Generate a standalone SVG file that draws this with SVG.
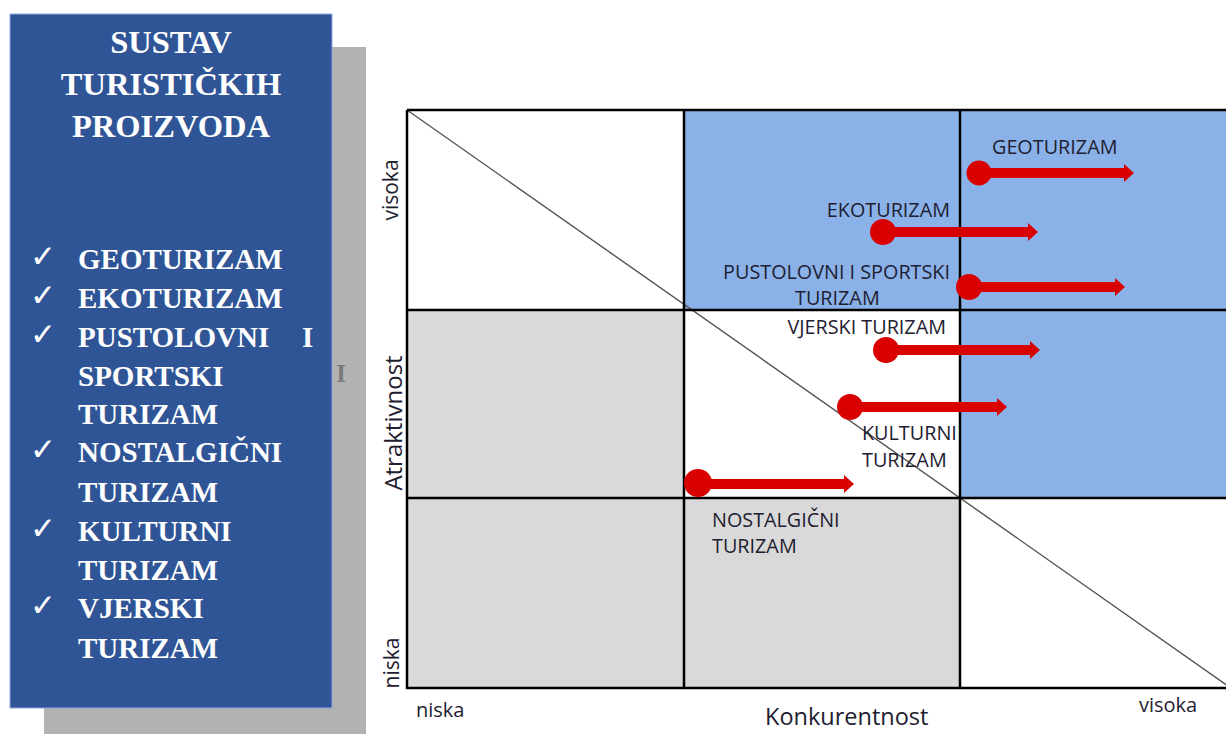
<svg xmlns="http://www.w3.org/2000/svg" width="1226" height="734" viewBox="0 0 1226 734">
<style>
.panel{font-family:"Liberation Serif","Times New Roman",serif;font-weight:bold;fill:#ffffff}
.title{font-size:32.5px;text-anchor:middle}
.item{font-size:29px}
.chk{font-family:"DejaVu Sans",sans-serif;font-size:31px;fill:#ffffff}
.lbl{font-family:"Open Sans","Liberation Sans",sans-serif;font-size:19.8px;fill:#1e2030}
.ax{font-family:"Open Sans","Liberation Sans",sans-serif;fill:#1e2030}
.grid{stroke:#000;stroke-width:2.5;fill:none}
.shaft{stroke:#d90000;stroke-width:10;fill:none}
.dot{fill:#d90000}
</style>
<defs>
<marker id="head" markerUnits="userSpaceOnUse" markerWidth="11" markerHeight="18" refX="0" refY="9" orient="auto" overflow="visible">
<path d="M0,0 L10,9 L0,18 z" fill="#d90000"/>
</marker>
</defs>
<rect width="1226" height="734" fill="#ffffff"/>

<g id="panel">
<rect x="44" y="47" width="322" height="700" fill="#b2b2b2"/>
<text x="341" y="382" font-family="Liberation Serif,serif" font-weight="bold" font-size="25" fill="#7a7a7a" text-anchor="middle">I</text>
<rect x="10" y="14" width="322" height="694" fill="#2f5597" stroke="#8ea9db" stroke-width="1"/>
<text class="panel title" x="171" y="53">SUSTAV</text>
<text class="panel title" x="171" y="95">TURISTIČKIH</text>
<text class="panel title" x="171" y="137">PROIZVODA</text>
<text class="chk" x="30" y="267">✓</text>
<text class="panel item" x="78" y="269">GEOTURIZAM</text>
<text class="chk" x="30" y="306">✓</text>
<text class="panel item" x="78" y="308">EKOTURIZAM</text>
<text class="chk" x="30" y="345">✓</text>
<text class="panel item" x="78" y="347">PUSTOLOVNI</text>
<text class="panel item" x="302" y="347">I</text>
<text class="panel item" x="78" y="386">SPORTSKI</text>
<text class="panel item" x="78" y="424">TURIZAM</text>
<text class="chk" x="30" y="460">✓</text>
<text class="panel item" x="78" y="462">NOSTALGIČNI</text>
<text class="panel item" x="78" y="502">TURIZAM</text>
<text class="chk" x="30" y="539">✓</text>
<text class="panel item" x="78" y="541">KULTURNI</text>
<text class="panel item" x="78" y="580">TURIZAM</text>
<text class="chk" x="30" y="616">✓</text>
<text class="panel item" x="78" y="618">VJERSKI</text>
<text class="panel item" x="78" y="658">TURIZAM</text>
</g>

<g id="matrix">
<rect x="684" y="110" width="560" height="200" fill="#8ab2e8"/>
<rect x="960" y="310" width="284" height="188" fill="#8ab2e8"/>
<rect x="407" y="310" width="277" height="378" fill="#d9d9d9"/>
<rect x="684" y="498" width="276" height="190" fill="#d9d9d9"/>
<line x1="407" y1="110" x2="1226" y2="684.6" stroke="#555" stroke-width="1.4"/>
<path class="grid" d="M407,110 H1240 M407,110 V688 H1240 M684,110 V688 M960,110 V688 M407,310 H1240 M407,498 H1240"/>
</g>

<g id="axis-labels">
<text class="ax" font-size="21" text-anchor="middle" transform="translate(398,190) rotate(-90)">visoka</text>
<text class="ax" font-size="24" text-anchor="middle" transform="translate(402,423) rotate(-90)">Atraktivnost</text>
<text class="ax" font-size="21" text-anchor="middle" transform="translate(399,663) rotate(-90)">niska</text>
<text class="ax" font-size="20" x="416" y="717">niska</text>
<text class="ax" font-size="23.5" x="765" y="725">Konkurentnost</text>
<text class="ax" font-size="20" x="1139" y="712">visoka</text>
</g>

<g id="connectors">
<g id="arrow-geo"><line class="shaft" x1="979" y1="173" x2="1124" y2="173" marker-end="url(#head)"/><circle class="dot" cx="979" cy="173" r="12.5"/></g>
<g id="arrow-eko"><line class="shaft" x1="883" y1="232" x2="1028" y2="232" marker-end="url(#head)"/><circle class="dot" cx="883" cy="232" r="13"/></g>
<g id="arrow-pust"><line class="shaft" x1="969" y1="287" x2="1115" y2="287" marker-end="url(#head)"/><circle class="dot" cx="969" cy="287" r="13"/></g>
<g id="arrow-vjer"><line class="shaft" x1="886" y1="350" x2="1030" y2="350" marker-end="url(#head)"/><circle class="dot" cx="886" cy="350" r="13"/></g>
<g id="arrow-kult"><line class="shaft" x1="850" y1="407" x2="997" y2="407" marker-end="url(#head)"/><circle class="dot" cx="850" cy="407" r="13"/></g>
<g id="arrow-nost"><line class="shaft" x1="698" y1="484" x2="844" y2="484" marker-end="url(#head)"/><circle class="dot" cx="698" cy="483" r="14"/></g>
</g>

<g id="node-geo"><text class="lbl" x="992" y="154">GEOTURIZAM</text></g>
<g id="node-eko"><text class="lbl" x="950" y="217" text-anchor="end">EKOTURIZAM</text></g>
<g id="node-pust"><text class="lbl" x="950" y="279" text-anchor="end">PUSTOLOVNI I SPORTSKI</text><text class="lbl" x="795" y="305">TURIZAM</text></g>
<g id="node-vjer"><text class="lbl" x="946" y="334" text-anchor="end">VJERSKI TURIZAM</text></g>
<g id="node-kult"><text class="lbl" x="862" y="440">KULTURNI</text><text class="lbl" x="862" y="467">TURIZAM</text></g>
<g id="node-nost"><text class="lbl" x="712" y="527">NOSTALGIČNI</text><text class="lbl" x="712" y="553">TURIZAM</text></g>
</svg>
